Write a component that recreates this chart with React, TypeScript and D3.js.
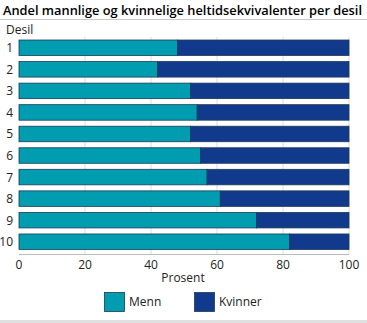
import React from "react";
import * as d3 from "d3";

const categories = ["1", "2", "3", "4", "5", "6", "7", "8", "9", "10"];
const menn = [48, 42, 52, 54, 52, 55, 57, 61, 72, 82];
const kvinner = menn.map((m) => 100 - m);
const xTicks = [0, 20, 40, 60, 80, 100];
const seriesNames = ["Menn", "Kvinner"];
const colors = ["#009cb0", "#123a8c"];

export default function App() {
  const W = 367, H = 323;
  const x = d3.scaleLinear().domain([0, 100]).range([19, 349]);
  const y = d3.scaleBand().domain(categories).range([37, 252.5]).paddingInner(0.28).paddingOuter(0.14);
  const font = "'Open Sans', sans-serif";
  const stack = categories.map((c, i) => ({ c, vals: [menn[i], kvinner[i]] }));
  return (
    <svg width={W} height={H} style={{ position: "absolute", left: 0, top: 0 }} fontFamily={font}>
      <rect width={W} height={H} fill="#fff" />
      <text x={3} y={15} fontSize={12.2} fontWeight={600} fill="#000" textLength={359} lengthAdjust="spacingAndGlyphs">
        Andel mannlige og kvinnelige heltidsekvivalenter per desil
      </text>
      <line x1={0} x2={W} y1={19.5} y2={19.5} stroke="#c8c8c8" strokeWidth={1} />
      <text x={6} y={34} fontSize={12} fill="#222">Desil</text>
      {xTicks.slice(1).map((t) => (
        <line key={t} x1={x(t)} x2={x(t)} y1={37} y2={254} stroke="#dcdcdc" strokeWidth={1} />
      ))}
      <line x1={x(0)} x2={x(100)} y1={254.5} y2={254.5} stroke="#bbb" strokeWidth={1} />
      {stack.map((s) => {
        let acc = 0;
        return s.vals.map((v, j) => {
          const x0 = acc;
          acc += v;
          return (
            <rect key={s.c + j} x={x(x0)} y={y(s.c)!} width={x(acc) - x(x0)} height={y.bandwidth()}
              fill={colors[j]} stroke="#1d3a55" strokeWidth={0.8} />
          );
        });
      })}
      {categories.map((c) => (
        <text key={c} x={13} y={y(c)! + y.bandwidth() / 2 + 4.5} fontSize={12} textAnchor="end" fill="#222">{c}</text>
      ))}
      {xTicks.map((t) => (
        <text key={t} x={x(t)} y={269} fontSize={12} textAnchor="middle" fill="#222">{t}</text>
      ))}
      <text x={183} y={282} fontSize={12} textAnchor="middle" fill="#222">Prosent</text>
      {seriesNames.map((n, i) => (
        <g key={n} transform={`translate(${104 + i * 90},292)`}>
          <rect x={0.5} y={0.5} width={20} height={19} fill={colors[i]} stroke="#1d3a55" strokeWidth={0.8} />
          <text x={25} y={14} fontSize={12} fill="#222">{n}</text>
        </g>
      ))}
      <rect x={0} y={320} width={W} height={3} fill="#e0e0e0" />
    </svg>
  );
}
